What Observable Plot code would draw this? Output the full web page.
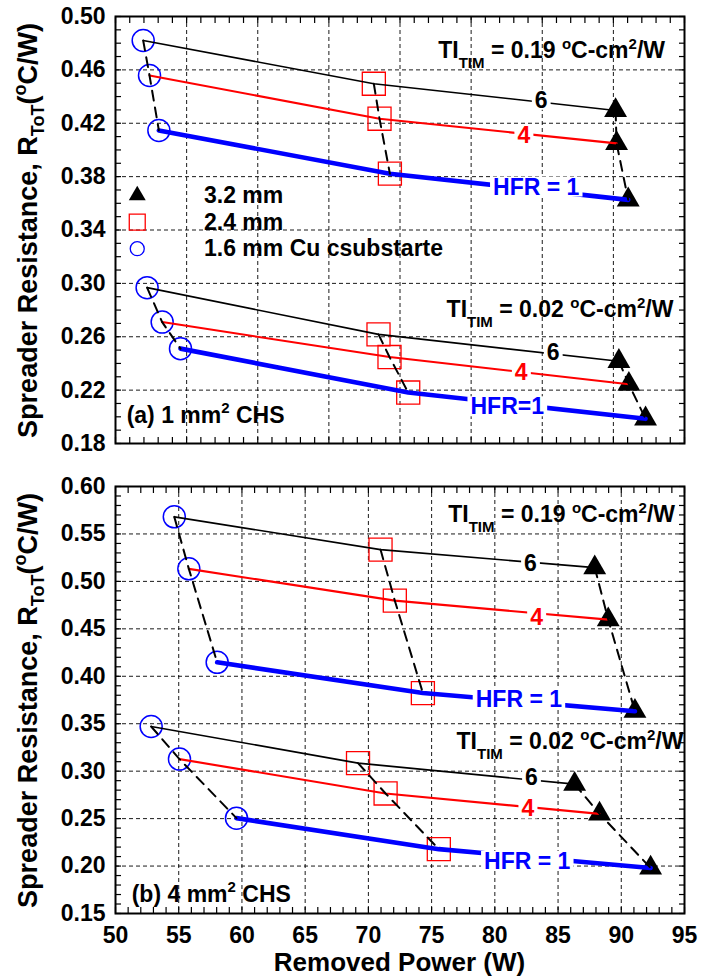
<!DOCTYPE html>
<html><head><meta charset="utf-8">
<script src="https://cdn.jsdelivr.net/npm/d3@7"></script>
<script src="https://cdn.jsdelivr.net/npm/@observablehq/plot@0.6"></script>
<style>
body{margin:0;background:#fff;}
#chart{width:712px;height:979px;overflow:hidden;}
#chart svg{display:block;}
</style></head><body><div id="chart"></div>
<script>
const FONT = "'Liberation Sans', Arial, Helvetica, sans-serif";

// HFR levels (line order) and thicknesses (marker order: circle, square, triangle)
const hfrLevels = [6, 4, 1];
const hfrColors = ["#000000", "#ff0000", "#0000ff"];
const hfrWidths = [1.6, 2.1, 4.6];
const thicknessLabels = ["1.6 mm", "2.4 mm", "3.2 mm"];

// Panel (a) 1 mm2 CHS — removed power (W) and R_ToT (°C/W); rows = HFR 6,4,1; cols = 1.6, 2.4, 3.2 mm
const powerA019 = [[52.19, 70.43, 89.55], [52.69, 70.88, 89.63], [53.43, 71.70, 90.55]];
const resA019   = [[0.482, 0.4496, 0.4296], [0.4558, 0.4234, 0.4049], [0.4146, 0.3822, 0.3626]];
const powerA002 = [[52.5, 70.8, 89.81], [53.69, 71.67, 90.6], [55.14, 73.15, 91.92]];
const resA002   = [[0.2968, 0.2618, 0.2416], [0.271, 0.2448, 0.2244], [0.2511, 0.2182, 0.1985]];
// Panel (b) 4 mm2 CHS
const powerB019 = [[54.65, 70.96, 87.9], [55.8, 72.09, 88.97], [58.04, 74.31, 91.08]];
const resB019   = [[0.568, 0.5335, 0.5145], [0.5132, 0.4797, 0.4597], [0.4147, 0.3823, 0.3632]];
const powerB002 = [[52.82, 69.18, 86.31], [55.06, 71.36, 88.28], [59.57, 75.57, 92.32]];
const resB002   = [[0.3471, 0.3085, 0.2863], [0.3127, 0.2765, 0.255], [0.2505, 0.2178, 0.198]];

// Line labels (text and anchor in data units)
const labelTextA019 = ["6", "4", "HFR = 1"];
const labelPosA019 = [[83.67, 0.4371], [82.29, 0.4109], [83.27, 0.3721]];
const labelTextA002 = ["6", "4", "HFR=1"];
const labelPosA002 = [[84.62, 0.2478], [82.09, 0.2328], [80.98, 0.2074]];
const labelTextB019 = ["6", "4", "HFR = 1"];
const labelPosB019 = [[82.82, 0.5188], [83.3, 0.4621], [81.9, 0.3756]];
const labelTextB002 = ["6", "4", "HFR = 1"];
const labelPosB002 = [[82.9, 0.2933], [82.61, 0.26], [82.56, 0.2047]];

// TI annotations (value, right end in data units)
const tiValues = ["0.19", "0.02"];
const tiPosA = [[93.5, 0.4685], [94.16, 0.2748]];
const tiPosB = [[94.29, 0.5623], [94.95, 0.3233]];

// Panel titles
const panelTitles = [["(a) 1 mm", " CHS"], ["(b) 4 mm", " CHS"]];
const panelTitlePos = [[50.92, 0.195], [51.32, 0.1614]];

// Legend (panel a)
const legendLabels = ["3.2 mm", "2.4 mm", "1.6 mm Cu csubstarte"];
const legendY = [0.3659, 0.3459, 0.326];
const legendMarkerX = 51.72;
const legendTextX = 57.0;

// Axis ticks
const yMajorA = d3.range(0, 9).map(k => +(0.18 + 0.04 * k).toFixed(2));
const yMinorA = d3.range(0, 33).map(k => +(0.18 + 0.01 * k).toFixed(2));
const xGridA = d3.range(0, 9).map(k => 50 + 5.625 * k);
const xMinorA = d3.range(0, 41).map(k => 50 + 1.125 * k);
const yMajorB = d3.range(0, 10).map(k => +(0.15 + 0.05 * k).toFixed(2));
const yMinorB = d3.range(0, 46).map(k => +(0.15 + 0.01 * k).toFixed(2));
const xMajorB = d3.range(50, 96, 5);
const xMinorB = d3.range(50, 96, 1);

const lineLabelSet = new Set([...labelTextA019, ...labelTextA002, ...labelTextB019, ...labelTextB002]);

function buildRows(groups) {
  const rows = [];
  groups.forEach(g => {
    hfrLevels.forEach((h, i) => {
      thicknessLabels.forEach((t, j) => {
        rows.push({g: g.key, hfr: h, hi: i, th: t, tj: j, P: g.power[i][j], R: g.res[i][j]});
      });
    });
  });
  return rows;
}

function makePanel(root, cfg) {
  const rows = buildRows(cfg.groups);
  const labels = [];
  cfg.groups.forEach(g => g.labelText.forEach((t, i) => labels.push({text: t, hi: i, x: g.labelPos[i][0], y: g.labelPos[i][1]})));
  const dash = {stroke: "#000", strokeOpacity: 1, strokeWidth: 0.9, strokeDasharray: "4,3"};
  const tickOpts = {tickSize: -6, tickFormat: () => "", label: null, strokeWidth: 1.2};
  const marks = [
    Plot.gridX({ticks: cfg.xGrid, ...dash}),
    Plot.gridY({ticks: cfg.yMajor, ...dash}),
    Plot.axisX({anchor: "bottom", ticks: cfg.xMinor, ...tickOpts}),
    Plot.axisX({anchor: "top", ticks: cfg.xMinor, ...tickOpts}),
    Plot.axisY({anchor: "left", ticks: cfg.yMinor, ...tickOpts}),
    Plot.axisY({anchor: "right", ticks: cfg.yMinor, ...tickOpts}),
    Plot.axisY({anchor: "left", ticks: cfg.yMajor, tickSize: 0, tickPadding: 10, tickFormat: d3.format(".2f"), label: null, fontSize: 23, fontWeight: "bold"}),
    Plot.frame({stroke: "#000", strokeWidth: 2}),
    Plot.dot(rows.filter(d => d.tj === 2), {x: "P", y: "R", symbol: "triangle", r: 8.5, fill: "#000", stroke: "none"}),
    Plot.dot(rows.filter(d => d.tj === 1), {x: "P", y: "R", symbol: "square", r: 13, fill: "none", stroke: "#ff0000", strokeWidth: 1.3}),
    Plot.dot(rows.filter(d => d.tj === 0), {x: "P", y: "R", symbol: "circle", r: 11, fill: "none", stroke: "#0000ff", strokeWidth: 1.5}),
  ];
  hfrLevels.forEach((h, i) => {
    marks.push(Plot.line(rows.filter(d => d.hi === i), {x: "P", y: "R", z: "g", stroke: hfrColors[i], strokeWidth: hfrWidths[i]}));
  });
  marks.push(Plot.line(rows, {x: "P", y: "R", z: d => d.g + "|" + d.th, stroke: "#000", strokeWidth: 2, strokeDasharray: "10,7"}));
  marks.push(Plot.text(labels, {x: "x", y: "y", text: "text", fill: d => hfrColors[d.hi], fontSize: 23, fontWeight: "bold"}));
  if (cfg.xLabels) {
    marks.push(Plot.axisX({anchor: "bottom", ticks: cfg.xLabels, tickSize: 0, tickPadding: 13, label: null, fontSize: 23, fontWeight: "bold"}));
  }
  if (cfg.legend) {
    const leg = legendLabels.map((t, i) => ({t, y: legendY[i], i}));
    marks.push(Plot.dot(leg.filter(d => d.i === 0), {x: () => legendMarkerX, y: "y", symbol: "triangle", r: 6.3, fill: "#000", stroke: "none"}));
    marks.push(Plot.dot(leg.filter(d => d.i === 1), {x: () => legendMarkerX, y: "y", symbol: "square", r: 9, fill: "none", stroke: "#ff0000", strokeWidth: 1.3}));
    marks.push(Plot.dot(leg.filter(d => d.i === 2), {x: () => legendMarkerX, y: "y", symbol: "circle", r: 7, fill: "none", stroke: "#0000ff", strokeWidth: 1.3}));
    marks.push(Plot.text(leg, {x: () => legendTextX, y: "y", text: "t", textAnchor: "start", fill: "#000", fontSize: 23, fontWeight: "bold"}));
  }
  const chart = Plot.plot({
    width: 712, height: cfg.height,
    marginLeft: 115, marginRight: 28, marginTop: 16, marginBottom: cfg.marginBottom,
    style: {fontFamily: FONT, fontWeight: "bold", fontSize: "22px", color: "#000", background: "white"},
    x: {domain: [50, 95]},
    y: {domain: cfg.yDomain},
    marks
  });
  root.appendChild(chart);
  const svg = d3.select(chart);
  const sx = v => chart.scale("x").apply(v);
  const sy = v => chart.scale("y").apply(v);

  // white boxes behind the line labels (line breaks around the text)
  const labelEls = [];
  chart.querySelectorAll("text").forEach(el => {
    if (lineLabelSet.has((el.textContent || "").trim())) labelEls.push(el);
  });
  labelEls.forEach(el => {
    let b;
    try { b = el.getBBox(); } catch (e) { b = null; }
    if (!b || !b.width) return;
    const r = document.createElementNS("http://www.w3.org/2000/svg", "rect");
    r.setAttribute("x", b.x - 3);
    r.setAttribute("y", b.y + 3);
    r.setAttribute("width", b.width + 6);
    r.setAttribute("height", Math.max(0, b.height - 6));
    r.setAttribute("fill", "white");
    // apply any transform the text carries
    const tr = el.getAttribute("transform");
    if (tr) r.setAttribute("transform", tr);
    el.parentNode.insertBefore(r, el);
  });

  const txt = () => svg.append("text").attr("fill", "#000").attr("text-anchor", "start").style("font-family", FONT).style("font-weight", "bold").style("white-space", "pre");

  // TI annotations
  cfg.tiPos.forEach((p, k) => {
    const t = txt().attr("x", sx(p[0])).attr("y", sy(p[1])).attr("text-anchor", "end").attr("font-size", 23);
    t.append("tspan").text("TI");
    t.append("tspan").attr("dy", 10).attr("font-size", 15).text("TIM");
    t.append("tspan").attr("dy", -10).text(" = " + tiValues[k] + " ");
    t.append("tspan").attr("dy", -9).attr("font-size", 15).text("o");
    t.append("tspan").attr("dy", 9).text("C-cm");
    t.append("tspan").attr("dy", -9).attr("font-size", 15).text("2");
    t.append("tspan").attr("dy", 9).text("/W");
  });
  // panel title
  const pt = txt().attr("x", sx(cfg.titlePos[0])).attr("y", sy(cfg.titlePos[1])).attr("font-size", 23);
  pt.append("tspan").text(cfg.title[0]);
  pt.append("tspan").attr("dy", -10).attr("font-size", 15).text("2");
  pt.append("tspan").attr("dy", 10).text(cfg.title[1]);

  // y title
  const cy = (16 + cfg.height - cfg.marginBottom) / 2 + 1;
  const yt = txt().attr("transform", `translate(37,${cy}) rotate(-90)`).attr("text-anchor", "middle").attr("font-size", 27);
  yt.append("tspan").text("Spreader Resistance, R");
  yt.append("tspan").attr("dy", 7).attr("font-size", 18).text("ToT");
  yt.append("tspan").attr("dy", -7).text("(");
  yt.append("tspan").attr("dy", -11).attr("font-size", 18).text("o");
  yt.append("tspan").attr("dy", 11).text("C/W)");

  if (cfg.xTitle) {
    txt().attr("x", (115 + 684) / 2).attr("y", cfg.height - 8).attr("text-anchor", "middle").attr("font-size", 26).text(cfg.xTitle);
  }
  return chart;
}

const root = document.getElementById("chart");
makePanel(root, {
  height: 470, marginBottom: 27,
  yDomain: [0.18, 0.50], yMajor: yMajorA, yMinor: yMinorA, xGrid: xGridA, xMinor: xMinorA,
  groups: [
    {key: "0.19", power: powerA019, res: resA019, labelText: labelTextA019, labelPos: labelPosA019},
    {key: "0.02", power: powerA002, res: resA002, labelText: labelTextA002, labelPos: labelPosA002}
  ],
  tiPos: tiPosA, title: panelTitles[0], titlePos: panelTitlePos[0], legend: true
});
makePanel(root, {
  height: 509, marginBottom: 66,
  yDomain: [0.15, 0.60], yMajor: yMajorB, yMinor: yMinorB, xGrid: xMajorB, xMinor: xMinorB, xLabels: xMajorB,
  groups: [
    {key: "0.19", power: powerB019, res: resB019, labelText: labelTextB019, labelPos: labelPosB019},
    {key: "0.02", power: powerB002, res: resB002, labelText: labelTextB002, labelPos: labelPosB002}
  ],
  tiPos: tiPosB, title: panelTitles[1], titlePos: panelTitlePos[1], xTitle: "Removed Power (W)"
});
</script></body></html>
